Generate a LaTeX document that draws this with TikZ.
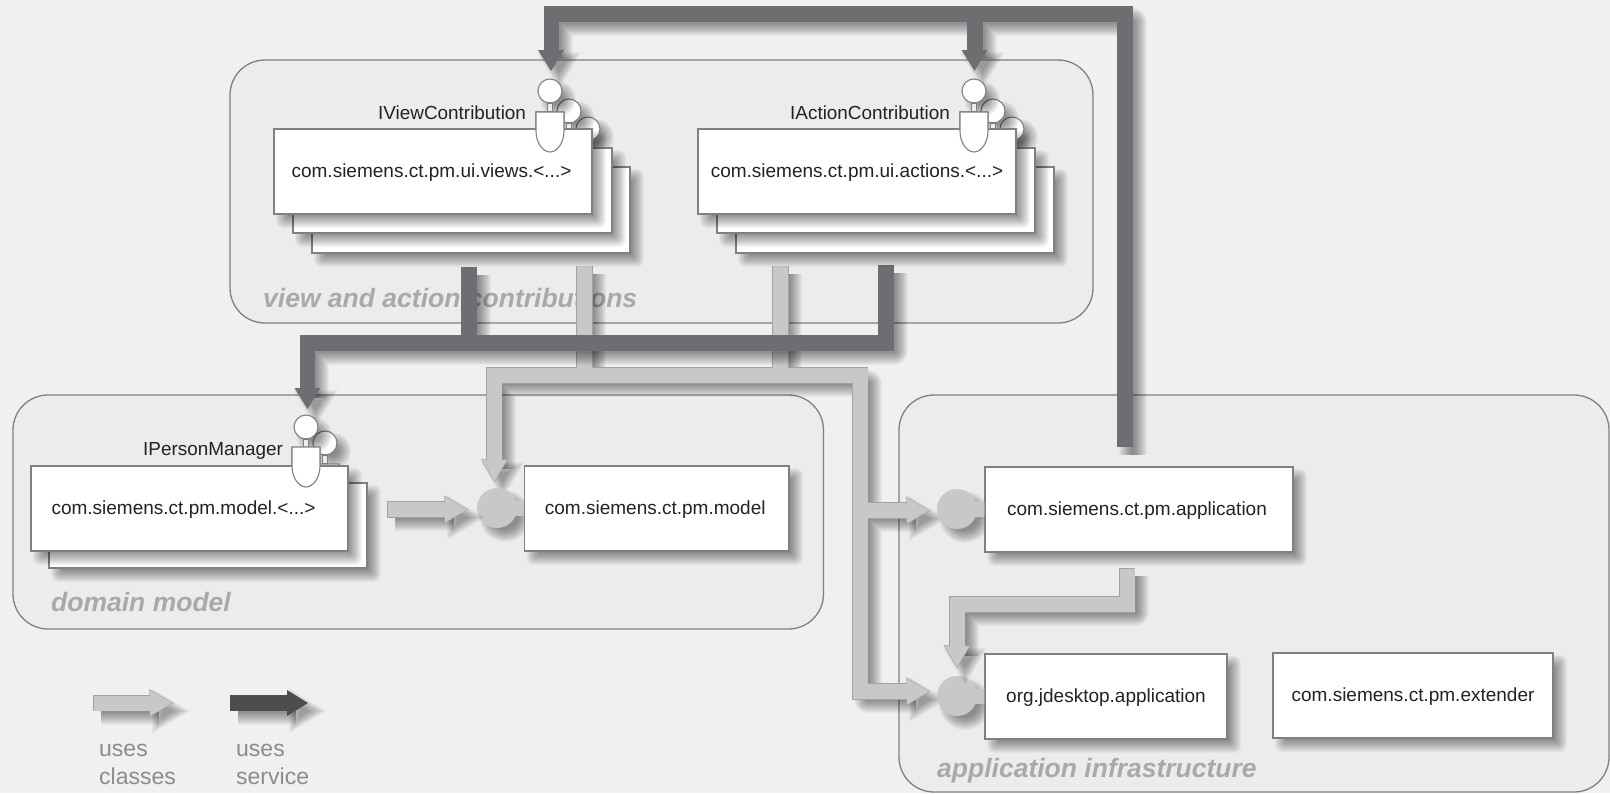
\documentclass[tikz,border=0pt]{standalone}
\usepackage{fontspec}
\setmainfont{Liberation Sans}
\definecolor{pagebg}{HTML}{F0F0F0}
\definecolor{groupbg}{HTML}{ECECEC}
\definecolor{rimgray}{HTML}{808080}
\definecolor{lightflow}{HTML}{C7C8CA}
\definecolor{lightrim}{HTML}{A2A2A4}
\definecolor{darkflow}{HTML}{6D6E71}
\definecolor{legenddark}{HTML}{4D4D4F}
\definecolor{ballgray}{HTML}{C8C8CA}
\definecolor{labelgray}{HTML}{A9A9AB}
\definecolor{legendtext}{HTML}{8C8C8C}
\definecolor{inktext}{HTML}{222222}
\tikzset{
  softfillstyle/.style={transform canvas={xshift=8pt,yshift=-8pt},fill=black,fill opacity=.036},
  softlinestyle/.style={transform canvas={xshift=8pt,yshift=-8pt},draw=black,draw opacity=.036,line join=round},
  groupbox/.style={draw=rimgray,fill=groupbg,line width=1.3pt,rounded corners=35pt,inner sep=0pt},
  pkgbox/.style={draw=rimgray,fill=white,line width=1.3pt,inner sep=0pt,text=inktext,text height=13pt,text depth=1pt,font=\fontsize{19}{20}\selectfont},
  ifacelabel/.style={anchor=mid west,inner sep=0pt,text=inktext,font=\fontsize{18.9}{20}\selectfont},
  grouplabel/.style={anchor=mid west,inner sep=0pt,text=labelgray,font=\fontsize{26.5}{28}\selectfont\bfseries\itshape},
  legendlabel/.style={anchor=mid west,inner sep=0pt,text=legendtext,font=\fontsize{23}{24}\selectfont},
  ballnode/.style={circle,fill=ballgray,inner sep=0pt,minimum size=40pt},
  lollinode/.style={circle,draw=rimgray,fill=white,line width=1.1pt,inner sep=0pt,minimum size=24pt},
}
% dilated drop shadows, layers from eroded to dilated
\newcommand\softrect[4]{\foreach \dd in {-6,...,6}{\fill[softfillstyle,rounded corners={(\dd+6)*.6pt+.01pt}] ({#1-\dd},{#2-\dd}) rectangle ({#3+\dd},{#4+\dd});}}
\newcommand\softdisc[3]{\foreach \dd in {-6,...,6}{\fill[softfillstyle] (#1,#2) circle[radius={#3+\dd}];}}
\newcommand\softline[2]{\foreach \dd in {-6,...,6}{\draw[softlinestyle,line width={(#1+2*\dd)*1pt}] #2;}}
% arrow heads: tip coordinate, half width, length, growth
\newcommand\headdown[4]{(#1) ++(0,{#4*1.7}) -- ++({-#2-1.6*#4},{-#3-2.7*#4}) -- ++({2*#2+3.2*#4},0) -- cycle}
\newcommand\headright[4]{(#1) ++({#4*1.7},0) -- ++({-#3-2.7*#4},{-#2-1.6*#4}) -- ++(0,{2*#2+3.2*#4}) -- cycle}
\newcommand\softhead[4]{\foreach \dd in {-4,...,6}{\fill[softfillstyle] #1{#2}{#3}{#4}{\dd};}}
% package box with shadow: name,x1,y1,x2,y2,text
\newcommand\pkg[6]{\softrect{#2}{#3}{#4}{#5}
  \node[pkgbox,minimum width={(#4-#2)*1pt},minimum height={(#5-#3)*1pt}] (#1) at ({(#2+#4)/2},{(#3+#5)/2}) {#6};}
\newcommand\socketpath[2]{({#1-14},{#2+21}) -- ({#1+14},{#2+21}) -- ({#1+14},{#2+40}) .. controls ({#1+14},{#2+52}) and ({#1+7},{#2+61}) .. (#1,{#2+61}) .. controls ({#1-7},{#2+61}) and ({#1-14},{#2+52}) .. ({#1-14},{#2+40}) -- cycle}
% lollipop: name,x,y of the circle
\newcommand\lolli[3]{\softdisc{#2}{#3}{12}
  \node[lollinode] (#1) at (#2,#3) {};
  \draw[rimgray,line width=1.1pt,fill=groupbg] ({#2-2.5},{#3+12}) rectangle ({#2+2.5},{#3+21});
  \filldraw[draw=rimgray,fill=white,line width=1.1pt] \socketpath{#2}{#3};}
\newcommand\sockettop[2]{\filldraw[draw=rimgray,fill=white,line width=1.1pt] \socketpath{#1}{#2};}
\begin{document}
\begin{tikzpicture}[x=1pt,y=-1pt]
\useasboundingbox (0,0) rectangle (1610,793);
\fill[pagebg] (0,0) rectangle (1610,793);
% groups
\node[groupbox,minimum width=863pt,minimum height=263pt] (gview) at (661.5,191.5) {};
\node[groupbox,minimum width=810.5pt,minimum height=234pt] (gdomain) at (418.25,512) {};
\node[groupbox,minimum width=710pt,minimum height=397pt] (ginfra) at (1254,593.5) {};
\node[grouplabel] (lview) at (263,305) {view and action contributions};
\node[grouplabel] (ldomain) at (51,609) {domain model};
\node[grouplabel] (linfra) at (937,775) {application infrastructure};
% connector ends
\coordinate (vu) at (584.5,266);
\coordinate (au) at (780.5,266);
\coordinate (busl) at (494,375.5);
\coordinate (busr) at (860,375.5);
\coordinate (mhead) at (494,461);
\coordinate (mtip) at (494.5,481);
\coordinate (abr) at (908,510.5);
\coordinate (atip) at (929,510.5);
\coordinate (jbr) at (908,691.5);
\coordinate (jtip) at (929,691.5);
\coordinate (mstart) at (387,509.5);
\coordinate (mend) at (446,509.5);
\coordinate (mtipb) at (467,509.5);
\coordinate (ajs) at (1127,568);
\coordinate (ajm) at (1127,604.5);
\coordinate (ajn) at (957,604.5);
\coordinate (ajh) at (957,648);
\coordinate (ajtip) at (957,667);
\coordinate (appout) at (1125,447);
\coordinate (topr) at (1125,14);
\coordinate (topl) at (551.5,14);
\coordinate (topm) at (975,14);
\coordinate (vh) at (551.5,51);
\coordinate (vtip) at (551,71);
\coordinate (ah) at (975,51);
\coordinate (atop) at (974.5,71);
\coordinate (vs) at (469,267);
\coordinate (as) at (886,265);
\coordinate (barl) at (307.5,343);
\coordinate (barr) at (886,343);
\coordinate (ph) at (307.5,390);
\coordinate (ptip) at (307.5,409);
\coordinate (lgls) at (93,703);
\coordinate (lgle) at (151,703);
\coordinate (lgltip) at (172,703);
\coordinate (lgds) at (230,703);
\coordinate (lgde) at (288,703);
\coordinate (lgdtip) at (308,703);
% light service classes network
\newcommand\lightnet{(vu) -- (vu |- busl) (au) -- (au |- busl) (mhead) -- (busl) -- (busr) -- (jbr -| busr) -- (jbr) (busr |- abr) -- (abr)}
\softline{15.5}{\lightnet}
\softhead{\headdown}{mtip}{12.5}{21}
\softhead{\headright}{atip}{13}{22}
\softhead{\headright}{jtip}{13}{22}
\filldraw[draw=lightrim,fill=lightflow,line width=1.1pt] \headdown{mtip}{12.5}{21}{0};
\filldraw[draw=lightrim,fill=lightflow,line width=1.1pt] \headright{atip}{13}{22}{0};
\filldraw[draw=lightrim,fill=lightflow,line width=1.1pt] \headright{jtip}{13}{22}{0};
\draw[lightrim,line width=16.2pt] \lightnet;
\fill[lightflow] \headdown{mtip}{12.5}{21}{0};
\fill[lightflow] \headright{atip}{13}{22}{0};
\fill[lightflow] \headright{jtip}{13}{22}{0};
\draw[lightflow,line width=15pt] \lightnet;
% dark service network, lower
\newcommand\darklow{(vs) -- (vs |- barl) (as) -- (barr) -- (barl) -- (ph)}
\softline{15.5}{\darklow}
\softhead{\headdown}{ptip}{13}{21}
\fill[darkflow] \headdown{ptip}{13}{21}{0};
\draw[darkflow,line width=15.5pt] \darklow;
% dark service network, upper
\newcommand\darktop{(appout) -- (topr) -- (topl) -- (vh) (topm) -- (ah)}
\softline{15.5}{\darktop}
\softhead{\headdown}{vtip}{13}{21}
\softhead{\headdown}{atop}{13}{21}
\fill[darkflow] \headdown{vtip}{13}{21}{0};
\fill[darkflow] \headdown{atop}{13}{21}{0};
\draw[darkflow,line width=15.5pt] \darktop;
% views
\lolli{lv3}{588}{129}
\lolli{lv2}{569}{111}
\pkg{v3}{312}{167}{630}{253}{}
\pkg{v2}{293}{148}{612}{233}{}
\lolli{lv1}{550}{91}
\pkg{v1}{274}{129}{592}{214}{\kern-3pt com.siemens.ct.pm.ui.views.<...>}
\sockettop{550}{91}
\node[ifacelabel] (iv) at (378,117) {IViewContribution};
% actions
\lolli{la3}{1012}{129}
\lolli{la2}{993}{111}
\pkg{a3}{736}{167}{1054}{253}{}
\pkg{a2}{717}{148}{1035}{233}{}
\lolli{la1}{974}{91}
\pkg{a1}{698}{129}{1016}{214}{com.siemens.ct.pm.ui.actions.<...>}
\sockettop{974}{91}
\node[ifacelabel] (ia) at (790,117) {IActionContribution};
% person manager
\lolli{lp2}{325}{443}
\pkg{p2}{49}{483}{367}{568}{}
\lolli{lp1}{306}{427}
\pkg{p1}{31}{466}{348}{551}{\kern-12pt com.siemens.ct.pm.model.<...>}
\sockettop{306}{426}
\node[ifacelabel] (ip) at (143,453) {IPersonManager};
% balls
\softdisc{497}{508}{20}
\softdisc{957}{509}{20}
\softdisc{957}{696}{20}
\pkg{model}{524.5}{466}{789}{551}{\kern-3pt com.siemens.ct.pm.model}
\pkg{appl}{985}{467}{1293}{552}{\kern-4pt com.siemens.ct.pm.application}
\pkg{jdesk}{985}{654}{1227}{739}{org.jdesktop.application}
\pkg{ext}{1273}{653}{1553}{738}{com.siemens.ct.pm.extender}
\node[ballnode] (bm) at (497,508) {};
\node[ballnode] (ba) at (957,509) {};
\node[ballnode] (bj) at (957,696) {};
\draw[ballgray,line width=15pt] (bm.center) -- (model.west);
\draw[ballgray,line width=15pt] (ba.center) -- (appl.west);
\draw[ballgray,line width=15pt] (bj.center) -- (jdesk.west);
% person model -> model
\softline{15.5}{(mstart) -- (mend)}
\softhead{\headright}{mtipb}{13}{22}
\filldraw[draw=lightrim,fill=lightflow,line width=1.1pt] \headright{mtipb}{13}{22}{0};
\draw[lightrim,line width=16.2pt] (mstart) -- (mend);
\fill[lightflow] \headright{mtipb}{13}{22}{0};
\draw[lightflow,line width=15pt] ([xshift=.6pt]mstart) -- (mend);
% application -> jdesktop
\softline{15.5}{(ajs) -- (ajm) -- (ajn) -- (ajh)}
\softhead{\headdown}{ajtip}{12.5}{21}
\filldraw[draw=lightrim,fill=lightflow,line width=1.1pt] \headdown{ajtip}{12.5}{21}{0};
\draw[lightrim,line width=16.2pt] (ajs) -- (ajm) -- (ajn) -- (ajh);
\fill[lightflow] \headdown{ajtip}{12.5}{21}{0};
\draw[lightflow,line width=15pt] ([yshift=-.6pt]ajs) -- (ajm) -- (ajn) -- (ajh);
% legend
\softline{15.5}{(lgls) -- (lgle)}
\softhead{\headright}{lgltip}{13}{22}
\filldraw[draw=lightrim,fill=lightflow,line width=1.1pt] \headright{lgltip}{13}{22}{0};
\draw[lightrim,line width=16.2pt] (lgls) -- (lgle);
\fill[lightflow] \headright{lgltip}{13}{22}{0};
\draw[lightflow,line width=15pt] ([xshift=.6pt]lgls) -- (lgle);
\softline{15.5}{(lgds) -- (lgde)}
\softhead{\headright}{lgdtip}{13}{21}
\fill[legenddark] \headright{lgdtip}{13}{21}{0};
\draw[legenddark,line width=15.5pt] (lgds) -- (lgde);
\node[legendlabel] (t1) at (99,754) {uses};
\node[legendlabel] (t2) at (99,782) {classes};
\node[legendlabel] (t3) at (236,754) {uses};
\node[legendlabel] (t4) at (236,782) {service};
\end{tikzpicture}
\end{document}
